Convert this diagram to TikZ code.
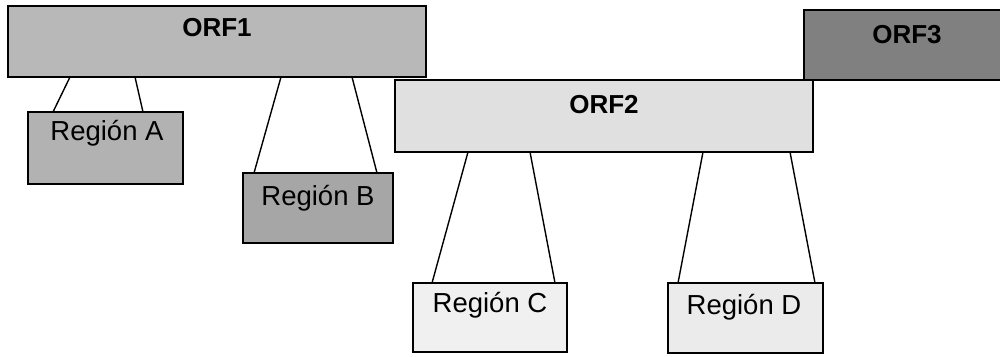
\documentclass[tikz,border=0pt]{standalone}
\usepackage{fontspec}
\setmainfont{Liberation Sans}
\begin{document}
\begin{tikzpicture}[x=1pt,y=-1pt,
  box/.style={draw=black, line width=1.6pt, rectangle, inner sep=0pt, outer sep=0pt, anchor=north west},
  orflabel/.style={font=\fontsize{26}{28}\selectfont\bfseries, inner sep=0pt},
  reglabel/.style={font=\fontsize{27.5}{30}\selectfont, inner sep=0pt},
  link/.style={draw=black, line width=1.4pt}]
\useasboundingbox (0,0) rectangle (1000,356);
% ORF boxes
\node[box, fill=black!28, minimum width=418pt, minimum height=71pt] (orf1) at (8,6) {};
\node[box, fill=black!12, minimum width=418pt, minimum height=72pt] (orf2) at (395,80) {};
\node[box, fill=black!50, minimum width=204pt, minimum height=70pt] (orf3) at (804,10) {};
\node[orflabel] (t1) at (217,28) {ORF1};
\node[orflabel] (t2) at (604,105) {ORF2};
\node[orflabel] (t3) at (907,35) {ORF3};
% Region boxes
\node[box, fill=black!30, minimum width=155pt, minimum height=72pt] (rega) at (28,112) {};
\node[box, fill=black!35, minimum width=150pt, minimum height=70pt] (regb) at (243,173) {};
\node[box, fill=black!6, minimum width=154pt, minimum height=69pt] (regc) at (413,283) {};
\node[box, fill=black!8, minimum width=155pt, minimum height=70pt] (regd) at (668,283) {};
\node[reglabel] (ta) at (107,133) {Región A};
\node[reglabel] (tb) at (318,198) {Región B};
\node[reglabel] (tc) at (490,305) {Región C};
\node[reglabel] (td) at (744,307) {Región D};
% connectors
\draw[link] ([xshift=62pt]orf1.south west) -- ([xshift=25pt]rega.north west);
\draw[link] ([xshift=127pt]orf1.south west) -- ([xshift=115pt]rega.north west);
\draw[link] ([xshift=273pt]orf1.south west) -- ([xshift=11pt]regb.north west);
\draw[link] ([xshift=344pt]orf1.south west) -- ([xshift=134pt]regb.north west);
\draw[link] ([xshift=73pt]orf2.south west) -- ([xshift=19pt]regc.north west);
\draw[link] ([xshift=135pt]orf2.south west) -- ([xshift=142pt]regc.north west);
\draw[link] ([xshift=308pt]orf2.south west) -- ([xshift=10pt]regd.north west);
\draw[link] ([xshift=395pt]orf2.south west) -- ([xshift=147pt]regd.north west);
\end{tikzpicture}
\end{document}
